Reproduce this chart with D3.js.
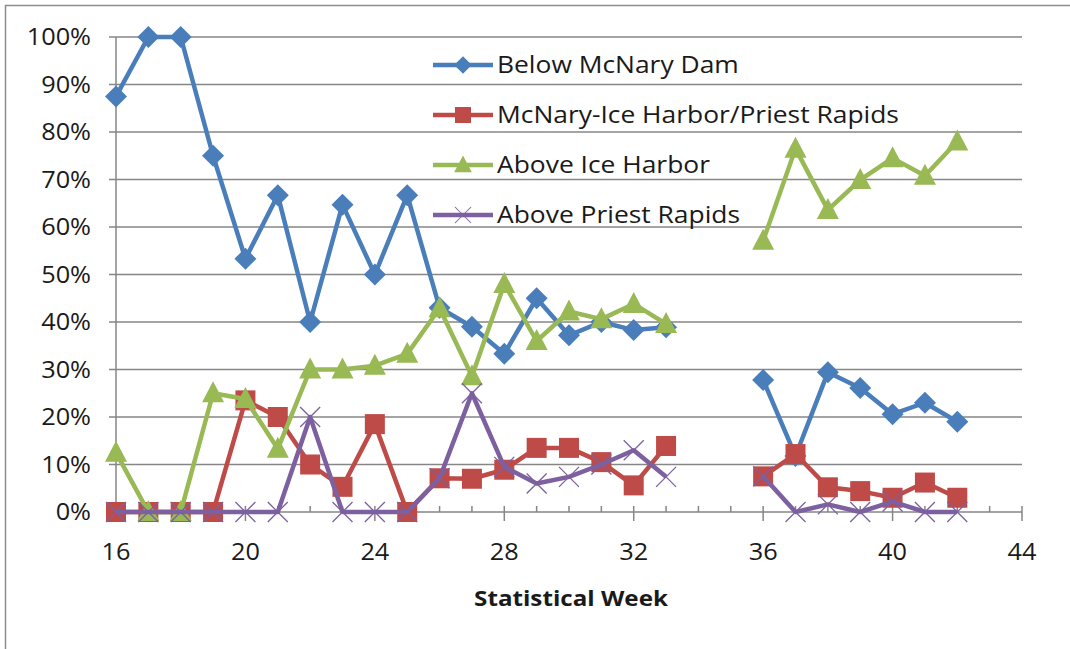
<!DOCTYPE html>
<html>
<head>
<meta charset="utf-8">
<script src="https://cdn.jsdelivr.net/npm/d3@7"></script>
<style>
  html, body { margin: 0; padding: 0; background: #fff; }
  svg { display: block; }
  text { font-family: "Open Sans", "Noto Sans", sans-serif; fill: #1a1a1a; }
</style>
</head>
<body>
<svg id="chart" width="1070" height="649"></svg>
<script>
// Statistical weeks 16-42 (weeks 34 and 35 have no data)
const weeks = [16,17,18,19,20,21,22,23,24,25,26,27,28,29,30,31,32,33,34,35,36,37,38,39,40,41,42];

const belowMcNary = [87.5,100,100,75,53.3,66.7,40,64.7,50,66.7,43,39,33.3,45,37.2,40,38.3,38.9,null,null,27.8,11.8,29.4,26.1,20.6,23,19];
const mcNaryIceHarbor = [0,0,0,0,23.5,20,10,5.3,18.5,0,7.1,7,8.9,13.5,13.5,10.5,5.6,13.9,null,null,7.5,12.2,5.2,4.4,3,6.2,3];
const aboveIceHarbor = [12.5,0,0,25,23.8,13.3,30,30,30.8,33.3,42.9,28.6,48,36,42.2,40.6,43.8,39.6,null,null,57.1,76.5,63.6,69.9,74.5,70.8,78];
const abovePriestRapids = [0,0,0,0,0,0,20,0,0,0,7.1,25,9.5,6,7.4,10,13,7.4,null,null,7.5,0,1.6,0,2.2,0,0];

const seriesNames = ["Below McNary Dam","McNary-Ice Harbor/Priest Rapids","Above Ice Harbor","Above Priest Rapids"];
const seriesValues = [belowMcNary, mcNaryIceHarbor, aboveIceHarbor, abovePriestRapids];
const seriesColors = ["#4A7EBB","#BE4B48","#98B954","#7D60A0"];
const seriesMarkers = ["diamond","square","triangle","cross"];

const xTicks = [16,20,24,28,32,36,40,44];
const yTicks = [0,10,20,30,40,50,60,70,80,90,100];
const xTitle = "Statistical Week";

const svg = d3.select("#chart");

// text helper: glyphs are drawn slightly widened
function label(parent, tx, ty, str, size, anchor, weight) {
  const g = parent.append("g").attr("transform", `translate(${tx},${ty})`);
  g.append("text")
    .attr("transform", "scale(1.1,1)")
    .attr("text-anchor", anchor)
    .attr("dy", "0.35em")
    .style("font-size", size + "px")
    .style("font-weight", weight || "normal")
    .text(str);
  return g;
}

// outer chart frame
svg.append("rect")
  .attr("x", 5.5).attr("y", 5.5)
  .attr("width", 1100).attr("height", 700)
  .attr("fill", "none").attr("stroke", "#8c8c8c").attr("stroke-width", 1.5);

const x = d3.scaleLinear().domain([16, 44]).range([116, 1022]);
const y = d3.scaleLinear().domain([0, 100]).range([512, 37]);

// horizontal gridlines with outside tick stubs
svg.append("g").selectAll("line")
  .data(yTicks)
  .join("line")
  .attr("x1", x(16) - 7).attr("x2", d => d > 0 ? x(44) : x(16))
  .attr("y1", d => y(d)).attr("y2", d => y(d))
  .attr("stroke", "#868686").attr("stroke-width", 1.5);

// y axis line
svg.append("line")
  .attr("x1", x(16)).attr("x2", x(16))
  .attr("y1", y(0)).attr("y2", y(100))
  .attr("stroke", "#868686").attr("stroke-width", 1.5);

// y tick labels
const yLabels = svg.append("g");
yTicks.forEach(t => label(yLabels, 91, y(t), t + "%", 23, "end"));

// x axis: minor weekly ticks inside, major ticks crossing
const xAxisG = svg.append("g").attr("transform", `translate(0,${y(0)})`);
xAxisG.append("line")
  .attr("x1", x(16)).attr("x2", x(44))
  .attr("stroke", "#868686").attr("stroke-width", 1.5);
xAxisG.selectAll("line.minor")
  .data(d3.range(16, 45))
  .join("line").attr("class", "minor")
  .attr("x1", d => x(d)).attr("x2", d => x(d))
  .attr("y1", -6).attr("y2", d => xTicks.includes(d) ? 9 : 0)
  .attr("stroke", "#868686").attr("stroke-width", 1.5);
xTicks.forEach(t => label(xAxisG, x(t), 40, String(t), 23, "middle"));

// axis title
label(svg, 571, 598, xTitle, 22, "middle", "bold");

// marker shapes
function drawMarker(g, type, color) {
  if (type === "diamond") {
    g.append("path").attr("d", "M0,-11L11,0L0,11L-11,0Z").attr("fill", color);
  } else if (type === "square") {
    g.append("rect").attr("x", -10).attr("y", -10).attr("width", 20).attr("height", 20).attr("fill", color);
  } else if (type === "triangle") {
    g.append("path").attr("d", "M0,-12L11,9L-11,9Z").attr("fill", color);
  } else {
    g.append("path").attr("d", "M-10,-10L10,10M-10,10L10,-10")
      .attr("stroke", color).attr("stroke-width", 1.3).attr("fill", "none");
  }
}

const line = d3.line()
  .defined(d => d.v !== null)
  .x(d => x(d.w)).y(d => y(d.v));

seriesValues.forEach((vals, i) => {
  const pts = weeks.map((w, j) => ({ w, v: vals[j] }));
  const g = svg.append("g");
  g.append("path")
    .datum(pts)
    .attr("d", line)
    .attr("fill", "none")
    .attr("stroke", seriesColors[i])
    .attr("stroke-width", 4.5)
    .attr("stroke-linejoin", "round");
  g.selectAll("g.mk")
    .data(pts.filter(d => d.v !== null))
    .join("g").attr("class", "mk")
    .attr("transform", d => `translate(${x(d.w)},${y(d.v)})`)
    .each(function () { drawMarker(d3.select(this), seriesMarkers[i], seriesColors[i]); });
});

// legend
const legend = svg.append("g").attr("transform", "translate(433,65)");
seriesNames.forEach((name, i) => {
  const row = legend.append("g").attr("transform", `translate(0,${i * 50})`);
  row.append("line").attr("x1", 0).attr("x2", 60)
    .attr("stroke", seriesColors[i]).attr("stroke-width", 4.5);
  const m = row.append("g").attr("transform", "translate(30,0) scale(0.8)");
  drawMarker(m, seriesMarkers[i], seriesColors[i]);
  label(row, 64, 0, name, 24, "start");
});
</script>
</body>
</html>
